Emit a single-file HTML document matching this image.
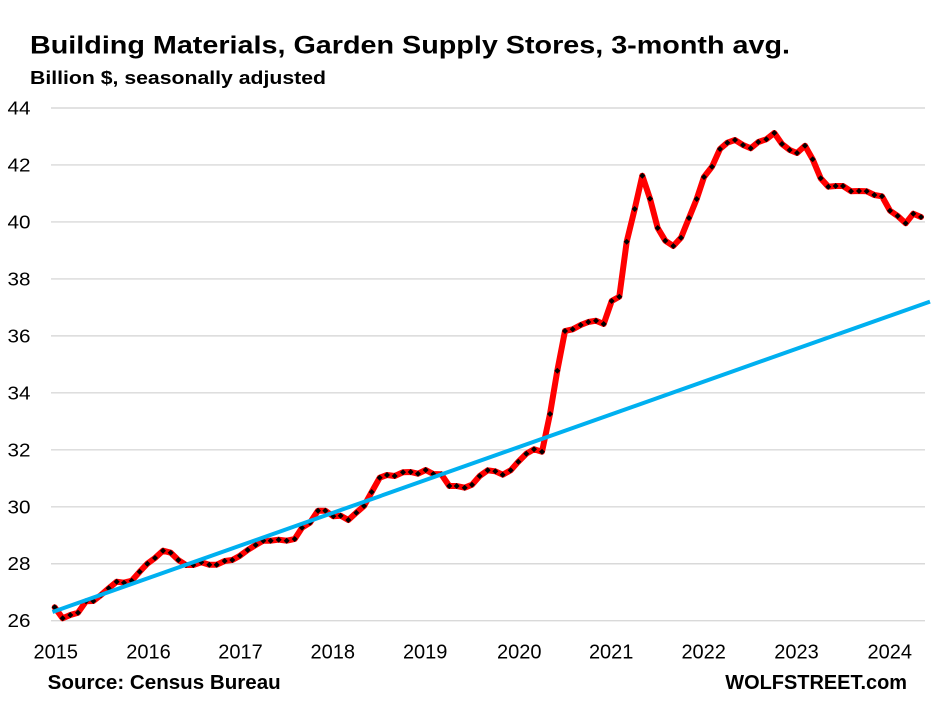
<!DOCTYPE html>
<html><head><meta charset="utf-8"><style>
html,body{margin:0;padding:0;background:#fff;}
svg{display:block;}
text{font-family:"Liberation Sans",Arial,sans-serif;fill:#000;}
</style></head><body>
<svg width="937" height="708" viewBox="0 0 937 708" xmlns="http://www.w3.org/2000/svg">
<defs>
<marker id="dm" markerUnits="userSpaceOnUse" markerWidth="8" markerHeight="8" refX="4" refY="4" orient="0">
<polygon points="4,1 7,4 4,7 1,4" fill="#000"/>
</marker>
</defs>
<rect width="937" height="708" fill="#fff"/>
<text x="30" y="53.3" font-size="25" font-weight="bold" textLength="760" lengthAdjust="spacingAndGlyphs">Building Materials, Garden Supply Stores, 3-month avg.</text>
<text x="30" y="84" font-size="18.5" font-weight="bold" textLength="296" lengthAdjust="spacingAndGlyphs">Billion $, seasonally adjusted</text>
<g stroke="#d9d9d9" stroke-width="1.4">
<line x1="51" x2="925" y1="108" y2="108"/>
<line x1="51" x2="925" y1="164.97" y2="164.97"/>
<line x1="51" x2="925" y1="221.94" y2="221.94"/>
<line x1="51" x2="925" y1="278.91" y2="278.91"/>
<line x1="51" x2="925" y1="335.88" y2="335.88"/>
<line x1="51" x2="925" y1="392.85" y2="392.85"/>
<line x1="51" x2="925" y1="449.82" y2="449.82"/>
<line x1="51" x2="925" y1="506.79" y2="506.79"/>
<line x1="51" x2="925" y1="563.76" y2="563.76"/>
<line x1="51" x2="925" y1="620.7" y2="620.7"/>
</g>
<g font-size="18.5">
<text x="7.5" y="114.5" textLength="23" lengthAdjust="spacingAndGlyphs">44</text>
<text x="7.5" y="171.5" textLength="23" lengthAdjust="spacingAndGlyphs">42</text>
<text x="7.5" y="228.4" textLength="23" lengthAdjust="spacingAndGlyphs">40</text>
<text x="7.5" y="285.4" textLength="23" lengthAdjust="spacingAndGlyphs">38</text>
<text x="7.5" y="342.4" textLength="23" lengthAdjust="spacingAndGlyphs">36</text>
<text x="7.5" y="399.3" textLength="23" lengthAdjust="spacingAndGlyphs">34</text>
<text x="7.5" y="456.3" textLength="23" lengthAdjust="spacingAndGlyphs">32</text>
<text x="7.5" y="513.3" textLength="23" lengthAdjust="spacingAndGlyphs">30</text>
<text x="7.5" y="570.2" textLength="23" lengthAdjust="spacingAndGlyphs">28</text>
<text x="7.5" y="627.2" textLength="23" lengthAdjust="spacingAndGlyphs">26</text>
</g>
<g font-size="20" text-anchor="middle">
<text x="55.8" y="658.3">2015</text>
<text x="148.5" y="658.3">2016</text>
<text x="240.5" y="658.3">2017</text>
<text x="332.8" y="658.3">2018</text>
<text x="425.2" y="658.3">2019</text>
<text x="519.3" y="658.3">2020</text>
<text x="611.2" y="658.3">2021</text>
<text x="703.7" y="658.3">2022</text>
<text x="796.5" y="658.3">2023</text>
<text x="889.8" y="658.3">2024</text>
</g>
<text x="47.7" y="689" font-size="20.5" font-weight="bold" textLength="233" lengthAdjust="spacingAndGlyphs">Source: Census Bureau</text>
<text x="725.3" y="689" font-size="20.5" font-weight="bold" textLength="181.7" lengthAdjust="spacingAndGlyphs">WOLFSTREET.com</text>
<polyline fill="none" stroke="#ff0000" stroke-width="6" stroke-linejoin="round" stroke-linecap="round" marker-start="url(#dm)" marker-mid="url(#dm)" marker-end="url(#dm)" points="54.7,607.3 62.7,618.3 70.3,615 78,612.7 86,601.3 93.3,601 101,595 108.7,588.3 116.7,581.7 124,582.7 131.7,580.7 139.7,571.7 147.3,563.7 155,558 163,550.7 170.7,552.7 178.3,560 186,565 193.3,565 201.3,562.3 209.3,564.7 216.7,564.7 224.7,561 232.3,560 240,555.7 247.7,550 255.7,545 263.3,540.7 270.7,540.7 278.7,539.7 286.7,540.7 294.7,539 302,527.7 310,522.7 318,510.7 325.3,510.7 333.3,516.3 340.7,515.7 348.3,520 356.3,512.7 364,506 371.7,492 379.7,477.7 387,475 394.7,476 403,472.3 410.7,472 418,473.7 425.7,470 433.3,474 441.3,474.3 449.3,486 456.7,486 464.7,487.7 472,484.7 479.7,476 487.7,470.3 495.3,471.3 502.7,474.7 510.7,470.3 518.3,461.7 526.3,453.7 534,449.3 542,451.7 550,414 557.3,370.7 565,331 572.7,329.3 580.7,325 588.3,322 596,320.7 603.7,324 611.7,301 619.3,296.7 626.7,241.7 634.7,209 642.3,175.7 650,198.7 657.7,228 665.3,240.7 673.3,246 681,237.7 689,218 696.7,199 704,177 712,166.7 720,149 727.3,142.7 735,140 743,145 750.7,148.3 758.3,142 766.3,139.3 774.3,133 782,144 789.7,150 797,153 805,145.7 812.7,159.3 820.7,178.3 828.3,186.7 835.7,186 843,186 851,191.3 859,191 866.7,191.3 874.3,195 882,196.3 890,210.7 897.7,216 905.7,223.3 913.3,213.7 921,217"/>
<line x1="52.5" y1="612" x2="930" y2="301.6" stroke="#00b0f0" stroke-width="4"/>
</svg>
</body></html>
